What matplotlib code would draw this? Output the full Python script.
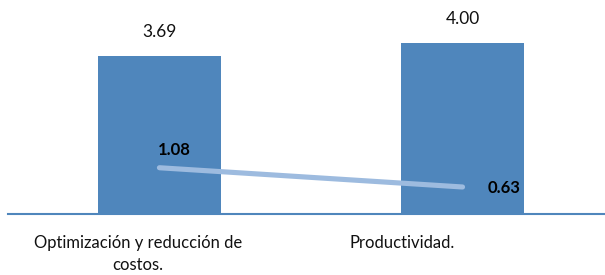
import matplotlib
matplotlib.use("Agg")
import matplotlib.pyplot as plt
import matplotlib.transforms as mtransforms

# data
categories = ["Optimización y reducción de\ncostos.", "Productividad."]
bar_values = [3.69, 4.00]
line_values = [1.08, 0.63]

bar_color = "#4F86BC"
line_color = "#9DBBDF"

plt.rcParams["font.family"] = ["Lato", "DejaVu Sans"]

fig = plt.figure(figsize=(6.05, 2.75), dpi=100)
ax = fig.add_axes([0.013, 0.222, 0.987, 0.778])

x = list(range(len(categories)))
bars = ax.bar(x, bar_values, width=0.405, color=bar_color, zorder=2)
ax.plot(x, line_values, color=line_color, linewidth=3.7, solid_capstyle="round", zorder=3)

# value labels above bars
for xi, v in zip(x, bar_values):
    ax.annotate(f"{v:.2f}", (xi, v), xytext=(0, 17), textcoords="offset points",
                ha="center", va="center", fontsize=12.5, color="#111111")

# bold labels for the line
ax.annotate(f"{line_values[0]:.2f}", (x[0], line_values[0]), xytext=(11, 13),
            textcoords="offset points", ha="center", va="center",
            fontsize=12, fontweight="bold", color="black", zorder=4)
ax.annotate(f"{line_values[1]:.2f}", (x[1], line_values[1]), xytext=(30, -1),
            textcoords="offset points", ha="center", va="center",
            fontsize=12, fontweight="bold", color="black", zorder=4)

ax.set_xlim(-0.5, 1.47)
ax.set_ylim(0, 5)
ax.set_yticks([])
ax.set_xticks([])
for s in ["top", "right", "left"]:
    ax.spines[s].set_visible(False)
ax.spines["bottom"].set_color(bar_color)
ax.spines["bottom"].set_linewidth(1.5)

# category labels (Excel places them a bit left of the bar centre)
trans = mtransforms.blended_transform_factory(ax.transData, ax.transAxes)
label_shift = [-0.07, -0.2]
for xi, lab, sh in zip(x, categories, label_shift):
    ax.text(xi + sh, -0.1, lab, transform=trans, ha="center", va="top",
            fontsize=12, color="#111111", linespacing=1.4)

fig.savefig("out.png", dpi=100)
